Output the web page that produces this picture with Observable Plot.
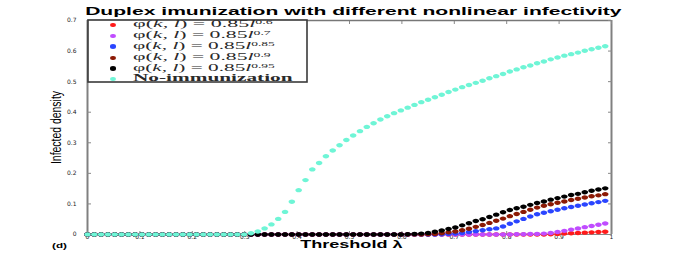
<!DOCTYPE html>
<html>
<head>
<meta charset="utf-8">
<script src="https://cdn.jsdelivr.net/npm/d3@7"></script>
<script src="https://cdn.jsdelivr.net/npm/@observablehq/plot@0.6"></script>
<style>
  html, body { margin: 0; padding: 0; background: #fff; }
  #wrap { position: relative; width: 676px; height: 263px; overflow: hidden; font-family: "Liberation Sans", Arial, sans-serif; }
  #wrap > svg { position: absolute; left: 0; top: 0; }
  .abs { position: absolute; white-space: nowrap; line-height: 1; }
  #title { font-weight: bold; font-size: 11.5px; color: #000; }
  #xlab { font-weight: bold; font-size: 10px; color: #000; }
  #ylab { font-size: 11px; color: #000; }
  #tag { font-weight: bold; font-size: 7px; color: #000; }
  .ltext i { font-style: italic; }
  .ltext sup { font-size: 6px; vertical-align: 3px; line-height: 0; }
</style>
</head>
<body>
<div id="wrap"></div>
<script>
// ---- data ----
const lambda = [0,0.013,0.026,0.039,0.052,0.065,0.078,0.091,0.104,0.117,0.13,0.143,0.156,0.169,0.182,0.195,0.208,0.221,0.234,0.247,0.26,0.273,0.286,0.299,0.312,0.325,0.338,0.351,0.364,0.377,0.39,0.403,0.416,0.429,0.442,0.455,0.468,0.481,0.494,0.507,0.52,0.533,0.546,0.559,0.572,0.585,0.598,0.611,0.624,0.637,0.65,0.663,0.676,0.689,0.702,0.715,0.728,0.741,0.754,0.767,0.78,0.793,0.806,0.819,0.832,0.845,0.858,0.871,0.884,0.897,0.91,0.923,0.936,0.949,0.962,0.975,0.988];

const red = [0,0,0,0,0,0,0,0,0,0,0,0,0,0,0,0,0,0,0,0,0,0,0,0,0,0,0,0,0,0,0,0,0,0,0,0,0,0,0,0,0,0,0,0,0,0,0,0,0,0,0,0,0,0,0,0,0,0,0,0,0,0,0,0,0,0,0,0,0.001,0.002,0.003,0.004,0.005,0.006,0.007,0.008,0.009];
const purple = [0,0,0,0,0,0,0,0,0,0,0,0,0,0,0,0,0,0,0,0,0,0,0,0,0,0,0,0,0,0,0,0,0,0,0,0,0,0,0,0,0,0,0,0,0,0,0,0,0,0,0,0,0,0,0,0,0,0,0,0,0,0,0,0.001,0.001,0.002,0.002,0.003,0.005,0.008,0.012,0.016,0.02,0.024,0.028,0.032,0.036];
const blue = [0,0,0,0,0,0,0,0,0,0,0,0,0,0,0,0,0,0,0,0,0,0,0,0,0,0,0,0,0,0,0,0,0,0,0,0,0,0,0,0,0,0,0,0,0,0,0,0,0,0,0,0,0.001,0.002,0.003,0.005,0.008,0.011,0.014,0.017,0.02,0.026,0.035,0.043,0.051,0.059,0.066,0.071,0.076,0.081,0.086,0.09,0.094,0.098,0.102,0.106,0.11];
const brown = [0,0,0,0,0,0,0,0,0,0,0,0,0,0,0,0,0,0,0,0,0,0,0,0,0,0,0,0,0,0,0,0,0,0,0,0,0,0,0,0,0,0,0,0,0,0,0,0,0,0,0.001,0.002,0.004,0.007,0.01,0.014,0.019,0.025,0.031,0.038,0.045,0.052,0.06,0.067,0.074,0.081,0.088,0.094,0.099,0.104,0.108,0.113,0.117,0.121,0.125,0.128,0.132];
const black = [0,0,0,0,0,0,0,0,0,0,0,0,0,0,0,0,0,0,0,0,0,0,0,0,0,0,0,0,0,0,0,0,0,0,0,0,0,0,0,0,0,0,0,0,0,0,0,0.001,0.002,0.003,0.005,0.009,0.013,0.018,0.023,0.03,0.037,0.044,0.05,0.057,0.065,0.073,0.08,0.086,0.091,0.097,0.103,0.108,0.114,0.119,0.124,0.129,0.133,0.138,0.143,0.147,0.151];
const noImmunization = [0,0,0,0,0,0,0,0,0,0,0,0,0,0,0,0,0,0,0,0,0,0,0,0,0.004,0.01,0.02,0.033,0.051,0.074,0.107,0.145,0.178,0.213,0.234,0.256,0.275,0.292,0.309,0.324,0.338,0.352,0.364,0.376,0.387,0.397,0.406,0.415,0.424,0.433,0.441,0.449,0.457,0.466,0.474,0.482,0.489,0.496,0.503,0.511,0.518,0.525,0.533,0.54,0.547,0.553,0.56,0.566,0.573,0.579,0.585,0.59,0.595,0.601,0.606,0.611,0.616];

const seriesNames = ["0.6", "0.7", "0.85", "0.9", "0.95", "No-immunization"];
const seriesValues = [red, purple, blue, brown, black, noImmunization];
const seriesColors = ["#ff1a1a", "#c04cff", "#2a45ff", "#8c1a05", "#000000", "#6ff5d6"];

const xTicks = [0,0.1,0.2,0.3,0.4,0.5,0.6,0.7,0.8,0.9,1];
const yTicks = [0,0.1,0.2,0.3,0.4,0.5,0.6,0.7];

const titleText = "Duplex imunization with different nonlinear infectivity";
const xLabel = "Threshold \u03bb";
const yLabel = "Infected density";
const panelTag = "(d)";

// ---- build ----
const rows = [];
seriesValues.forEach((vals, s) => vals.forEach((v, i) => rows.push({x: lambda[i], y: v, s})));

const ellipse = {
  draw(ctx, size) {
    const r = Math.sqrt(size / Math.PI), a = r * 1.5, b = r, k = 0.5523;
    ctx.moveTo(a, 0);
    ctx.bezierCurveTo(a, k*b, k*a, b, 0, b);
    ctx.bezierCurveTo(-k*a, b, -a, k*b, -a, 0);
    ctx.bezierCurveTo(-a, -k*b, -k*a, -b, 0, -b);
    ctx.bezierCurveTo(k*a, -b, a, -k*b, a, 0);
    ctx.closePath();
  }
};

const fmt = d3.format("~g");
const tickFont = {fontSize: 6, fontFamily: "DejaVu Sans, sans-serif", fill: "#222"};

const chart = Plot.plot({
  width: 676, height: 263,
  marginLeft: 87, marginRight: 65, marginTop: 20, marginBottom: 29,
  style: {background: "transparent", overflow: "visible"},
  x: {domain: [0, 1]},
  y: {domain: [0, 0.7]},
  marks: [
    Plot.ruleY([0.7], {stroke: "#777", strokeWidth: 1.5}),
    Plot.ruleY([0], {stroke: "#888", strokeWidth: 1}),
    Plot.ruleX([0, 1], {stroke: "#808080", strokeWidth: 2}),
    Plot.axisX({anchor: "bottom", ticks: xTicks, tickSize: -3, tickPadding: 3, tickFormat: fmt, stroke: "#888", label: null, ...tickFont}),
    Plot.axisX({anchor: "top", ticks: xTicks, tickSize: -3, tickFormat: () => "", stroke: "#888", label: null}),
    Plot.axisY({anchor: "left", ticks: yTicks, tickSize: -4, tickPadding: 15, tickFormat: fmt, stroke: "#888", label: null, ...tickFont}),
    Plot.axisY({anchor: "right", ticks: yTicks, tickSize: -4, tickFormat: () => "", stroke: "#888", label: null}),
    Plot.dot(rows, {x: "x", y: "y", r: 2.2, symbol: ellipse, fill: d => seriesColors[d.s], stroke: "none"})
  ]
});

// legend frame drawn inside the svg (top-left corner of the plot area)
d3.select(chart).append("rect")
  .attr("x", 88).attr("y", 20).attr("width", 219).attr("height", 62)
  .attr("fill", "#fff").attr("stroke", "#3a3a3a").attr("stroke-width", 1.6);

const wrap = document.getElementById("wrap");
wrap.appendChild(chart);

function addText(id, text) {
  const el = document.createElement("div");
  el.id = id; el.className = "abs"; el.textContent = text;
  wrap.appendChild(el);
  return el;
}
// fit horizontal text to a measured width (picture is horizontally stretched)
function placeH(el, cx, cy, width) {
  const w = el.offsetWidth, h = el.offsetHeight;
  el.style.left = (cx - w / 2) + "px";
  el.style.top = (cy - h / 2) + "px";
  el.style.transform = `scaleX(${width / w})`;
  el.style.transformOrigin = "50% 50%";
}
placeH(addText("title", titleText), 353, 12, 537);
placeH(addText("xlab", xLabel), 351, 245, 103);
placeH(addText("tag", panelTag), 59.5, 245, 15);

const yl = addText("ylab", yLabel);
{
  const w = yl.offsetWidth, h = yl.offsetHeight;
  yl.style.left = (56 - w / 2) + "px";
  yl.style.top = (127 - h / 2) + "px";
  yl.style.transformOrigin = "50% 50%";
  yl.style.transform = `scaleX(1.4) rotate(-90deg) scaleX(${73 / w})`;
}

// legend entries
const legend = document.createElement("div");
Object.assign(legend.style, {position: "absolute", left: "88px", top: "20px", width: "219px", height: "61px"});
wrap.appendChild(legend);
const rowCenters = [5, 15.8, 26.6, 37.8, 48.6, 59];
const rowWidths = [139, 137, 141, 137, 141, 159];
seriesNames.forEach((name, i) => {
  const m = document.createElement("div");
  Object.assign(m.style, {
    position: "absolute", left: "22px", top: (rowCenters[i] - 2.2) + "px",
    width: "6px", height: "4.5px", borderRadius: "50%", background: seriesColors[i]
  });
  const t = document.createElement("div");
  t.className = "ltext";
  Object.assign(t.style, {
    position: "absolute", left: "45px", top: (rowCenters[i] - 6) + "px",
    fontFamily: "'Liberation Serif', 'DejaVu Serif', serif", fontSize: "9.5px",
    color: "#2a2a2a", whiteSpace: "nowrap", lineHeight: "11px", transformOrigin: "0 50%"
  });
  if (i < 5) t.innerHTML = `\u03c6(<i>k</i>, <i>l</i>) = 0.85<i>l</i><sup>${name}</sup>`;
  else { t.textContent = name; t.style.fontWeight = "bold"; }
  legend.appendChild(m); legend.appendChild(t);
  t.style.transform = `scaleX(${rowWidths[i] / t.offsetWidth})`;
});
</script>
</body>
</html>
